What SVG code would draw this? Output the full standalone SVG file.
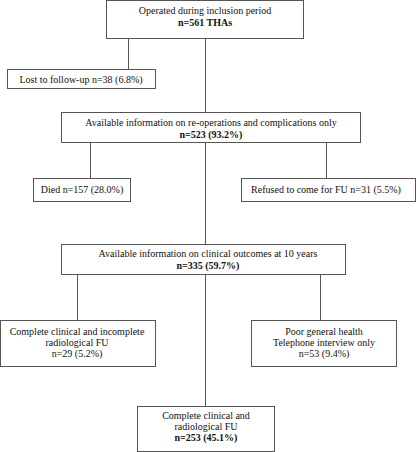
<svg xmlns="http://www.w3.org/2000/svg" width="417" height="452" viewBox="0 0 417 452">
<style>
.b{fill:#fff;stroke:#555;stroke-width:1}
.c{stroke:#555;stroke-width:1;fill:none}
text{font-family:"Liberation Serif","Times New Roman",serif;font-size:10px;fill:#111;text-anchor:middle}
.bd{font-weight:bold}
</style>
<rect width="417" height="452" fill="#fff"/>
<g id="connectors">
<path class="c" d="M205.5 38.5V112.5M128.5 38.5V69.5M205.5 142.5V244.5M90.5 142.5V178.5M326.5 142.5V178.5M205.5 274.5V406.5M77.5 274.5V320.5M320.5 274.5V320.5"/>
</g>
<g id="n1"><rect class="b" x="106.5" y="0.5" width="197" height="38"/>
<text x="205" y="14">Operated during inclusion period</text>
<text x="205" y="26" class="bd">n=561 THAs</text></g>
<g id="n2"><rect class="b" x="7.5" y="69.5" width="148" height="19"/>
<text x="81" y="83">Lost to follow-up n=38 (6.8%)</text></g>
<g id="n3"><rect class="b" x="61.5" y="112.5" width="299" height="30"/>
<text x="211" y="126">Available information on re-operations and complications only</text>
<text x="211" y="138" class="bd">n=523 (93.2%)</text></g>
<g id="n4"><rect class="b" x="33.5" y="178.5" width="97" height="23"/>
<text x="82" y="193">Died n=157 (28.0%)</text></g>
<g id="n5"><rect class="b" x="241.5" y="178.5" width="174" height="23"/>
<text x="326" y="193">Refused to come for FU n=31 (5.5%)</text></g>
<g id="n6"><rect class="b" x="61.5" y="244.5" width="284" height="30"/>
<text x="208" y="257">Available information on clinical outcomes at 10 years</text>
<text x="208" y="269" class="bd">n=335 (59.7%)</text></g>
<g id="n7"><rect class="b" x="0.5" y="320.5" width="155" height="46"/>
<text x="77" y="335">Complete clinical and incomplete</text>
<text x="77" y="346">radiological FU</text>
<text x="77" y="357">n=29 (5.2%)</text></g>
<g id="n8"><rect class="b" x="251.5" y="320.5" width="145" height="46"/>
<text x="324" y="335">Poor general health</text>
<text x="324" y="346">Telephone interview only</text>
<text x="324" y="357">n=53 (9.4%)</text></g>
<g id="n9"><rect class="b" x="137.5" y="406.5" width="137" height="45"/>
<text x="206" y="419">Complete clinical and</text>
<text x="206" y="430">radiological FU</text>
<text x="206" y="441" class="bd">n=253 (45.1%)</text></g>
</svg>
